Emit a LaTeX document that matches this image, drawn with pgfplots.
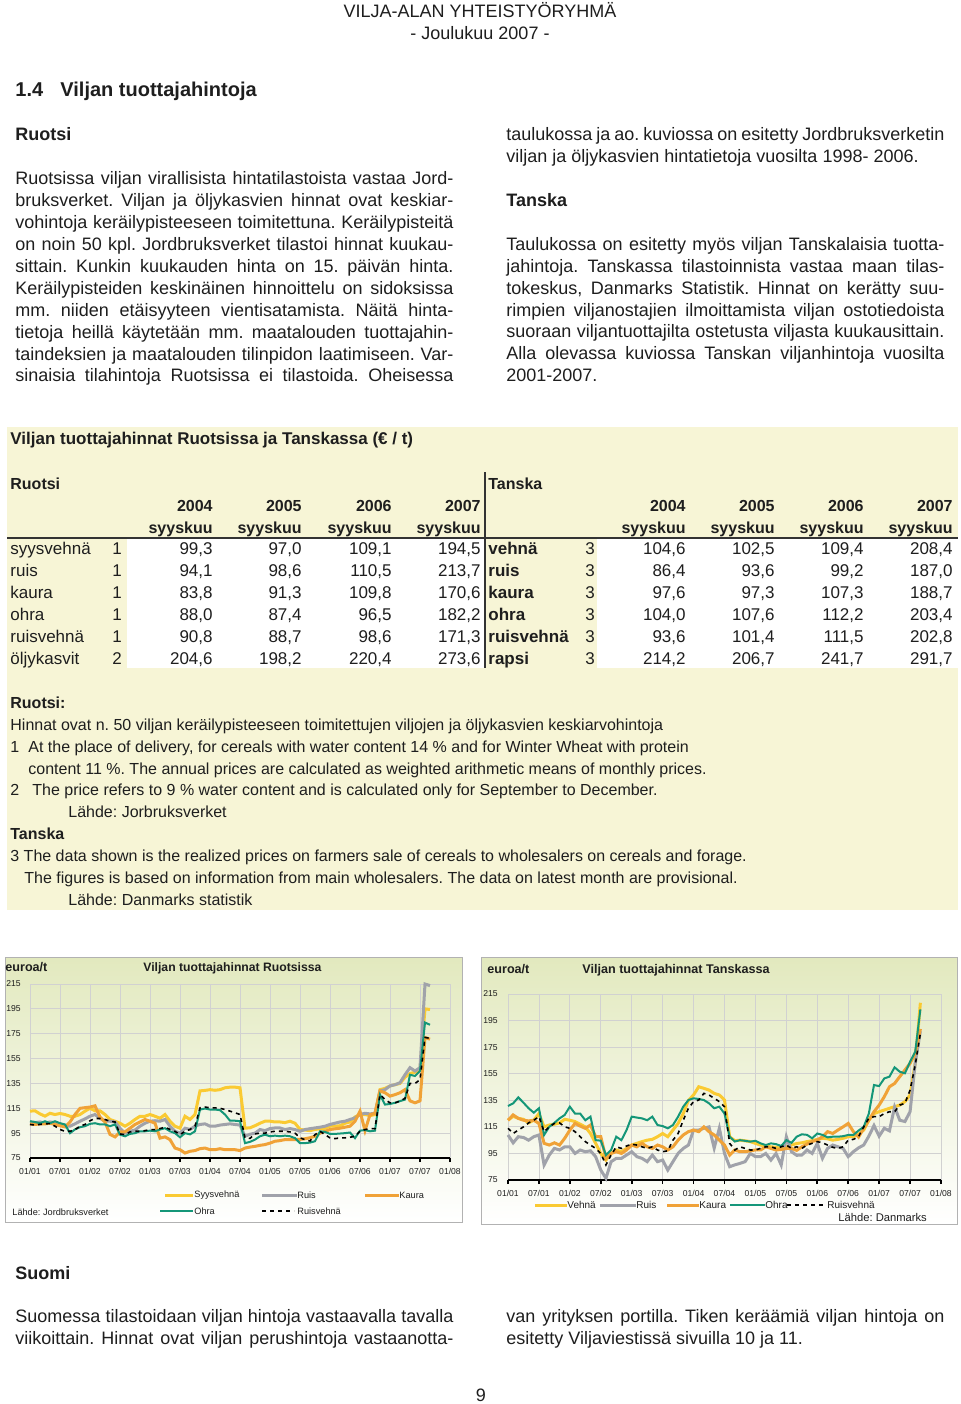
\documentclass[border=0pt]{standalone}
\usepackage{fontspec}
\setmainfont{Liberation Sans}
\usepackage{pgfplots}
\pgfplotsset{compat=1.18}
\usepackage{pgfplotstable}
\frenchspacing

\definecolor{txt}{RGB}{30,30,30}
\definecolor{tabbg}{RGB}{247,245,214}
\definecolor{chtop}{RGB}{226,233,190}
\definecolor{cyel}{RGB}{250,202,50}
\definecolor{cgray}{RGB}{160,162,170}
\definecolor{corange}{RGB}{240,162,55}
\definecolor{cgreen}{RGB}{20,150,120}
\newcommand\fs[1]{\fontsize{#1}{#1}\selectfont}

% Sweden, monthly from 01/2001 (m=0): syysvehna ruis kaura ohra ruisvehna
\pgfplotstableread{
m sy ru ka oh rv
0 112.7 104 102.5 104.6 102
1 113 103.5 102 104 101.5
2 110.5 104 102.5 103 102
3 108.7 103 102.5 104.6 102.5
4 111 104 103 103 102.7
5 110 103.5 102 104.6 100.6
6 110.8 102.5 101 103 97.9
7 110 101 100 102 96.5
8 108.6 100.6 104 95 96.5
9 108.6 102.5 110 98 97.9
10 110 104.6 115 99.8 100.6
11 112.7 106.5 115.5 100.6 102
12 115 108.6 116 102.5 105
13 113 110 117 103 106.8
14 113 107 108 102 106.8
15 110 104.6 104 102 106
16 106 104.6 94 100.6 104.6
17 104.6 104 92 102 104
18 103 99 96 93.8 94.4
19 100.6 95 96 92.5 93.8
20 103 96.5 99 94.4 96
21 106 97.5 102 95 96.5
22 108.6 100.6 104 96.5 96.5
23 108.6 103 106 96.5 97
24 110 104.6 104.6 97 97.9
25 108.6 105 103 96.5 97.9
26 107 104.6 91 97.9 98.7
27 110 106 92 99 99.8
28 104.6 100.6 89.8 96.5 98
29 100.6 96.5 83 95 96.5
30 99 95 81.7 91.7 93.8
31 108.6 99 79 95 96.5
32 106 98 80.4 94 98
33 110 100.6 81 96.5 100.6
34 129 102 82.5 114 115.4
35 129.4 102.5 83 114.8 116
36 130 100.6 81.7 114 115.4
37 129.5 100.6 81.7 114 115.4
38 130 101.5 82.5 113.5 115
39 131.5 102 81.7 110 114
40 132 102.5 81.7 105 112.7
41 132 102 81.7 105 111.4
42 131.5 101.5 81 104.6 110
43 99 92.5 83 87 91.2
44 99.3 94.1 83.8 88 90.8
45 101 95 84.4 89.8 94.4
46 103 97.9 85.2 92.5 95
47 104.6 97 85.8 93.8 95
48 104.6 98.7 87 92.5 96
49 104 99.2 88.5 93 96.5
50 104 99.2 89 92.5 96.5
51 103.5 97.9 89.8 93 96.5
52 104.6 98.7 89.8 92.5 96
53 103 97.9 89.8 91 95
54 98 96.5 90 87 91.2
55 97.5 97.9 90.5 87 89.8
56 97 98.6 91.3 87.4 88.7
57 98 99.2 92.5 88.5 93.8
58 98.5 99.8 95 96.5 96.5
59 99 100.6 96.5 96 93.8
60 100.6 102 97.9 94.4 91.2
61 100.6 103 98.5 94.4 90.6
62 101 104 99 94.7 91.2
63 103 104.6 99.8 95 91.2
64 104 106 100.6 95.5 91.7
65 108 107.3 104.6 91 92.5
66 110 110 112.7 97 96.5
67 110 111 97 97.5 97.9
68 109.1 110.5 109.8 96.5 98.6
69 110 111 111 97 98.7
70 130 129 129 126 126
71 131 130 127.5 118 122
72 133 133 124.8 118.5 119.4
73 134 134 126 119.4 119.4
74 135 135.6 127.5 120.8 120.8
75 140 142 130 122 123
76 143 147.7 121 142 135
77 144 145 119.4 141 135
78 146 147.7 121 145 138
79 195 215 172 184 172
80 194.5 213.7 170.6 182.2 171.3
}\swe

% Denmark, monthly from 01/2001 (m=0): vehna ruis kaura ohra ruisvehna
\pgfplotstableread{
m dv dr dk do drv
0 120 108.9 120 130.7 113.9
1 123 103 124 132.7 110
2 121.4 107.6 121.4 137.2 112.6
3 120.7 107 120 133.2 115
4 118 105 119.5 129 118
5 120 107.6 120 125.7 120
6 125 108.9 117.6 129 122.7
7 115 86.3 102.6 108.9 111.4
8 116.4 93.8 101.3 115 115
9 117 98.8 103 118 117.6
10 118 97.6 101.3 121.4 118
11 120.7 100 106.4 124 115
12 120 100 112.6 130.2 113.9
13 119 95 117.6 125 111.4
14 117 97.6 115.6 125 107.6
15 115 96.3 113.9 120 103.9
16 110 97 116.4 122.7 101.3
17 102.6 92.6 107.6 105 98.8
18 95 82.5 107.6 104.6 95
19 90 76.3 91.3 93.8 86.3
20 95 88.8 95 97.6 93.8
21 97.6 91.3 96.3 107.6 100
22 96.3 91.3 95 105 98.8
23 98.8 93.8 97.6 112.6 100.6
24 101.3 96.3 101.3 122.7 102
25 102.6 92.6 100 122 101.3
26 103.9 91.3 102.6 121.4 100
27 105 88.8 100 120 98.8
28 105.6 93.8 98.8 122.7 100
29 107.6 88.8 101.3 116.4 97.6
30 110 90 100 115.6 96.3
31 107.6 82.5 97.6 113.9 97
32 112.6 88.8 100 116.4 105
33 117.6 95 105 122.7 110
34 125 98.8 108.9 130.2 120
35 135 101.3 111.4 135.2 129
36 139 112.6 112.6 136.5 134
37 145.2 112.6 111.4 136 135.2
38 144 113.9 115 135.2 140.2
39 142.7 115 111.4 132.7 139
40 140.2 99 108.9 129 136.5
41 139 114 105 130.2 134
42 135.2 95 101.3 125 130.2
43 107.6 85 93.8 107.6 102.6
44 104.6 86.4 97.6 104 97.6
45 105 87.5 96.3 105 100
46 104.5 88.8 96.3 104.5 98.8
47 103.9 95 97 103.9 97.6
48 102.6 92.6 97.6 104.5 97.6
49 101.3 92.6 97.6 102.6 98.8
50 100.6 95 100 101.3 100
51 100 90 98.8 102.6 100
52 99.6 95 97.6 102 98.8
53 98.8 86.3 98 100.6 100
54 100 107.6 98.8 105 101.3
55 101.3 96.3 98.8 103 98.8
56 102.5 93.6 97.3 107.6 100
57 103 93.8 100 109.4 98.8
58 103.9 97.6 102 109 101.3
59 104.6 95 104 106.4 102.6
60 105.6 102.6 105 110 103.9
61 106.4 91.3 107.6 109 103
62 106 98.8 111.4 107.1 101.3
63 105 101.3 110 107.6 99.6
64 105.6 100 112.6 107.6 98.8
65 106.4 98.8 115 108 100
66 107.6 92.6 117.6 108.9 105
67 107.6 96.3 111.4 108.9 105.6
68 109.4 99.2 107.3 112.2 107.6
69 112.6 101.3 113.9 115 115
70 120 108 120 125 121.4
71 125 116 126.4 146.5 122.7
72 126.4 108 131.4 145.7 122.7
73 127.7 114 137.7 151.5 125
74 129 112 145.2 152.8 126.4
75 130.2 130 147.7 159.8 126.4
76 131.4 120 152.8 156.5 131.4
77 134 119 157.8 155.3 132.7
78 139 126.4 162.8 164 142.7
79 162.8 162.8 170.3 171.6 161.6
80 208.4 187 188.7 203.4 185.4
}\den

\pgfplotsset{
  pricechart/.style={
    scale only axis, xmin=0, xmax=84, ymin=75, ymax=215,
    clip=false,
    xtick={0,6,...,84},
    xticklabels={01/01,07/01,01/02,07/02,01/03,07/03,01/04,07/04,01/05,07/05,01/06,07/06,01/07,07/07,01/08},
    ytick={75,95,...,215},
    grid=major, grid style={black!18,line width=0.4pt},
    axis x line=bottom, axis y line=left,
    y axis line style={draw=none},
    x axis line style={black,line width=1.1pt,-},
    xtick style={black,line width=0.8pt}, ytick style={draw=none},
    xtick align=outside, major tick length=2pt,
    /pgf/number format/assume math mode=true,
    tick label style={font=\fs{4.3}, text=txt},
    xticklabel style={anchor=north, inner sep=0pt, yshift=-3pt},
    yticklabel style={anchor=east, inner sep=0pt},
  },
  thickline/.style={line width=1.5pt},
}

\newcommand\jline[3]{\node[anchor=base west,font=\fs{9}] at (#1,#2) {\makebox[219pt][s]{#3}};}
\newcommand\lline[3]{\node[anchor=base west,font=\fs{9}] at (#1,#2) {#3};}

\begin{document}
\begin{tikzpicture}
\begin{scope}[x=0.5pt,y=-0.5pt,every node/.style={inner sep=0pt,text=txt}]
\fill[white] (0,0) rectangle (960,1404);
\useasboundingbox (0,0) rectangle (960,1404);

% header
\node[anchor=base,font=\fs{9}] at (480,17) {VILJA-ALAN YHTEISTYÖRYHMÄ};
\node[anchor=base,font=\fs{9}] at (480,39) {- Joulukuu 2007 -};
\node[anchor=base west,font=\fs{10}\bfseries] at (15,96) {1.4};
\node[anchor=base west,font=\fs{10}\bfseries] at (60,96) {Viljan tuottajahintoja};
\node[anchor=base west,font=\fs{9}\bfseries] at (15,140) {Ruotsi};

% left column
\jline{15}{184}{Ruotsissa viljan virallisista hintatilastoista vastaa Jord-}
\jline{15}{206}{bruksverket. Viljan ja öljykasvien hinnat ovat keskiar-}
\jline{15}{228}{vohintoja keräilypisteeseen toimitettuna. Keräilypisteitä}
\jline{15}{250}{on noin 50 kpl. Jordbruksverket tilastoi hinnat kuukau-}
\jline{15}{272}{sittain. Kunkin kuukauden hinta on 15. päivän hinta.}
\jline{15}{294}{Keräilypisteiden keskinäinen hinnoittelu on sidoksissa}
\jline{15}{316}{mm. niiden etäisyyteen vientisatamista. Näitä hinta-}
\jline{15}{338}{tietoja heillä käytetään mm. maatalouden tuottajahin-}
\jline{15}{360}{taindeksien ja maatalouden tilinpidon laatimiseen. Var-}
\jline{15}{381}{sinaisia tilahintoja Ruotsissa ei tilastoida. Oheisessa}

% right column
\jline{506}{140}{taulukossa ja ao. kuviossa on esitetty Jordbruksverketin}
\lline{506}{162}{viljan ja öljykasvien hintatietoja vuosilta 1998- 2006.}
\node[anchor=base west,font=\fs{9}\bfseries] at (506,206) {Tanska};
\jline{506}{250}{Taulukossa on esitetty myös viljan Tanskalaisia tuotta-}
\jline{506}{272}{jahintoja. Tanskassa tilastoinnista vastaa maan tilas-}
\jline{506}{294}{tokeskus, Danmarks Statistik. Hinnat on kerätty suu-}
\jline{506}{316}{rimpien viljanostajien ilmoittamista viljan ostotiedoista}
\jline{506}{337}{suoraan viljantuottajilta ostetusta viljasta kuukausittain.}
\jline{506}{359}{Alla olevassa kuviossa Tanskan viljanhintoja vuosilta}
\lline{506}{381}{2001-2007.}

% table block
\fill[tabbg] (7,427) rectangle (958,910);
\fill[white] (127,538) rectangle (484,668);
\fill[white] (597,538) rectangle (958,668);
\draw[black!80,line width=0.6pt] (7,538) -- (958,538);
\draw[black!80,line width=0.6pt] (485,472) -- (485,668);
\node[anchor=base west,font=\fs{8.5}\bfseries] at (10,444) {Viljan tuottajahinnat Ruotsissa ja Tanskassa (€ / t)};
\node[anchor=base west,font=\fs{8}\bfseries] at (10,489) {Ruotsi};
\node[anchor=base west,font=\fs{8}\bfseries] at (488,489) {Tanska};
\foreach \xx/\yr in {213/2004,302/2005,392/2006,481/2007,686/2004,775/2005,864/2006,953/2007}{
  \node[anchor=base east,font=\fs{8}\bfseries] at (\xx,511) {\yr};
  \node[anchor=base east,font=\fs{8}\bfseries] at (\xx,533) {syyskuu};
}
\foreach \yy/\lab/\nn/\va/\vb/\vc/\vd in {
  554/syysvehnä/1/{99,3}/{97,0}/{109,1}/{194,5},
  576/ruis/1/{94,1}/{98,6}/{110,5}/{213,7},
  598/kaura/1/{83,8}/{91,3}/{109,8}/{170,6},
  620/ohra/1/{88,0}/{87,4}/{96,5}/{182,2},
  642/ruisvehnä/1/{90,8}/{88,7}/{98,6}/{171,3},
  664/öljykasvit/2/{204,6}/{198,2}/{220,4}/{273,6}}{
  \node[anchor=base west,font=\fs{8.5}] at (10,\yy) {\lab};
  \node[anchor=base west,font=\fs{8.5}] at (112,\yy) {\nn};
  \node[anchor=base east,font=\fs{8.5}] at (213,\yy) {\va};
  \node[anchor=base east,font=\fs{8.5}] at (302,\yy) {\vb};
  \node[anchor=base east,font=\fs{8.5}] at (392,\yy) {\vc};
  \node[anchor=base east,font=\fs{8.5}] at (481,\yy) {\vd};
}
\foreach \yy/\lab/\va/\vb/\vc/\vd in {
  554/vehnä/{104,6}/{102,5}/{109,4}/{208,4},
  576/ruis/{86,4}/{93,6}/{99,2}/{187,0},
  598/kaura/{97,6}/{97,3}/{107,3}/{188,7},
  620/ohra/{104,0}/{107,6}/{112,2}/{203,4},
  642/ruisvehnä/{93,6}/{101,4}/{111,5}/{202,8},
  664/rapsi/{214,2}/{206,7}/{241,7}/{291,7}}{
  \node[anchor=base west,font=\fs{8.5}\bfseries] at (488,\yy) {\lab};
  \node[anchor=base west,font=\fs{8.5}] at (585,\yy) {3};
  \node[anchor=base east,font=\fs{8.5}] at (686,\yy) {\va};
  \node[anchor=base east,font=\fs{8.5}] at (775,\yy) {\vb};
  \node[anchor=base east,font=\fs{8.5}] at (864,\yy) {\vc};
  \node[anchor=base east,font=\fs{8.5}] at (953,\yy) {\vd};
}

% notes
\node[anchor=base west,font=\fs{8}\bfseries] at (10,708) {Ruotsi:};
\node[anchor=base west,font=\fs{8}] at (10,730) {Hinnat ovat n. 50 viljan keräilypisteeseen toimitettujen viljojen ja öljykasvien keskiarvohintoja};
\node[anchor=base west,font=\fs{8}] at (10,752) {1};
\node[anchor=base west,font=\fs{8}] at (28,752) {At the place of delivery, for cereals with water content 14 \% and for Winter Wheat with protein};
\node[anchor=base west,font=\fs{8}] at (28,774) {content 11 \%. The annual prices are calculated as weighted arithmetic means of monthly prices.};
\node[anchor=base west,font=\fs{8}] at (10,795) {2};
\node[anchor=base west,font=\fs{8}] at (32,795) {The price refers to 9 \% water content and is calculated only for September to December.};
\node[anchor=base west,font=\fs{8}] at (68,817) {Lähde: Jorbruksverket};
\node[anchor=base west,font=\fs{8}\bfseries] at (10,839) {Tanska};
\node[anchor=base west,font=\fs{8}] at (10,861) {3 The data shown is the realized prices on farmers sale of cereals to wholesalers on cereals and forage.};
\node[anchor=base west,font=\fs{8}] at (24,883) {The figures is based on information from main wholesalers. The data on latest month are provisional.};
\node[anchor=base west,font=\fs{8}] at (68,905) {Lähde: Danmarks statistik};

% chart frames
\shade[top color=chtop,bottom color=white] (5,957) rectangle (462,1222);
\draw[black!30,line width=0.5pt] (5,957) rectangle (462,1222);
\shade[top color=chtop,bottom color=white] (481,957) rectangle (957,1224);
\draw[black!30,line width=0.5pt] (481,957) rectangle (957,1224);

\node[anchor=base west,font=\fs{6.3}\bfseries] at (5,971) {euroa/t};
\node[anchor=base west,font=\fs{6.1}\bfseries] at (143,971) {Viljan tuottajahinnat Ruotsissa};
\node[anchor=base west,font=\fs{6.3}\bfseries] at (487,973) {euroa/t};
\node[anchor=base west,font=\fs{6.3}\bfseries] at (582,973) {Viljan tuottajahinnat Tanskassa};

% left legend
\draw[cyel,line width=1.5pt] (165,1195) -- (193,1195);
\node[anchor=west,font=\fs{4.6}] at (194,1195) {Syysvehnä};
\draw[cgray,line width=1.5pt] (262,1195) -- (297,1195);
\node[anchor=west,font=\fs{4.6}] at (297,1195) {Ruis};
\draw[corange,line width=1.5pt] (365,1195) -- (399,1195);
\node[anchor=west,font=\fs{4.6}] at (399,1195) {Kaura};
\draw[cgreen,line width=1pt] (160,1211) -- (193,1211);
\node[anchor=west,font=\fs{4.6}] at (194,1211) {Ohra};
\draw[black,line width=0.8pt,dash pattern=on 2pt off 2pt] (262,1211) -- (294,1211);
\node[anchor=west,font=\fs{4.6}] at (297,1211) {Ruisvehnä};
\node[anchor=west,font=\fs{4.6}] at (12,1212) {Lähde: Jordbruksverket};

% right legend
\draw[cyel,line width=1.5pt] (535,1205) -- (567,1205);
\node[anchor=west,font=\fs{5}] at (567,1205) {Vehnä};
\draw[cgray,line width=1.5pt] (600,1205) -- (636,1205);
\node[anchor=west,font=\fs{5}] at (636,1205) {Ruis};
\draw[corange,line width=1.5pt] (667,1205) -- (699,1205);
\node[anchor=west,font=\fs{5}] at (699,1205) {Kaura};
\draw[cgreen,line width=1pt] (730,1205) -- (765,1205);
\node[anchor=west,font=\fs{5}] at (765,1205) {Ohra};
\draw[black,line width=0.8pt,dash pattern=on 2pt off 2pt] (787,1205) -- (826,1205);
\node[anchor=west,font=\fs{5}] at (827,1205) {Ruisvehnä};
\node[anchor=west,font=\fs{5.6}] at (838,1217) {Lähde: Danmarks};

% bottom text
\node[anchor=base west,font=\fs{9}\bfseries] at (15,1279) {Suomi};
\jline{15}{1322}{Suomessa tilastoidaan viljan hintoja vastaavalla tavalla}
\jline{15}{1344}{viikoittain. Hinnat ovat viljan perushintoja vastaanotta-}
\jline{506}{1322}{van yrityksen portilla. Tiken keräämiä viljan hintoja on}
\lline{506}{1344}{esitetty Viljaviestissä sivuilla 10 ja 11.}
\node[anchor=base,font=\fs{9}] at (481,1401) {9};
\end{scope}

% Sweden chart
\begin{axis}[pricechart, at={(15pt,-579pt)}, anchor=south west,
  width=210pt, height=87pt, yticklabel style={xshift=-3.5pt}]
\addplot[cyel,thickline] table[x=m,y=sy]{\swe};
\addplot[cgray,thickline] table[x=m,y=ru]{\swe};
\addplot[corange,thickline] table[x=m,y=ka]{\swe};
\addplot[cgreen,line width=1pt] table[x=m,y=oh]{\swe};
\addplot[black,line width=0.8pt,dash pattern=on 2pt off 2pt] table[x=m,y=rv]{\swe};
\end{axis}

% Denmark chart
\begin{axis}[pricechart, at={(254pt,-590pt)}, anchor=south west,
  width=216.5pt, height=93pt, yticklabel style={xshift=-4pt}]
\addplot[cyel,thickline] table[x=m,y=dv]{\den};
\addplot[cgray,thickline] table[x=m,y=dr]{\den};
\addplot[corange,thickline] table[x=m,y=dk]{\den};
\addplot[cgreen,line width=1pt] table[x=m,y=do]{\den};
\addplot[black,line width=0.8pt,dash pattern=on 2pt off 2pt] table[x=m,y=drv]{\den};
\end{axis}
\end{tikzpicture}
\end{document}
